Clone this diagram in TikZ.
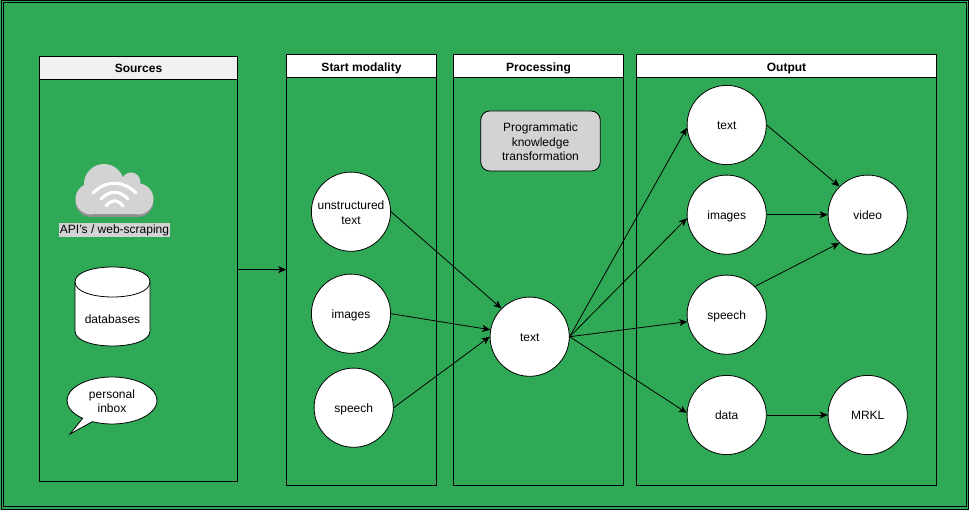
\documentclass[tikz,border=0pt]{standalone}
\usepackage{fontspec}
\setmainfont{Liberation Sans}
\usetikzlibrary{arrows.meta, positioning, shapes.geometric, shapes.callouts}
\definecolor{bggreen}{HTML}{2FA956}
\definecolor{cloudgray}{HTML}{D3D3D3}
\definecolor{cloudshade}{HTML}{909090}
\newcommand{\lineup}{\rule{0pt}{10.2pt}}

\begin{document}
\begin{tikzpicture}[
    x=1pt, y=-1pt,
    font=\fontsize{12}{14.7}\selectfont,
    panel/.style={rectangle, draw, line width=1pt, minimum height=430pt},
    head/.style={rectangle, draw, line width=1pt, fill=white, minimum height=23pt, inner sep=0pt, text height=11.5pt, text depth=1.5pt, font=\fontsize{12}{14.7}\selectfont\bfseries},
    word/.style={text height=11pt, text depth=1.6pt},
    circ/.style={circle, draw, line width=0.8pt, fill=white, minimum size=79.2pt, inner sep=0pt, align=center},
    wifi/.style={white, line width=3pt, line cap=round},
    line/.style={draw, line width=0.8pt, -{Stealth[length=8pt,width=7pt,inset=2pt]}}
]
    % Background
    \useasboundingbox (0,0) rectangle (969,510);
    \fill[bggreen] (0,0) rectangle (969,510);
    \draw[line width=1pt] (1,1) rectangle (968,509);
    \draw[line width=1pt] (3,3) rectangle (966,506.5);

    % Place panels
    \node [panel, minimum width=198pt, minimum height=425pt] (P_sources) at (138.5,269) {};
    \node [panel, minimum width=149.5pt] (P_start) at (361.5,270) {};
    \node [panel, minimum width=170pt] (P_proc) at (538.5,270) {};
    \node [panel, minimum width=300pt] (P_output) at (786.5,270) {};
    \node [head, fill=black!6, minimum width=198pt, below=0pt of P_sources.north] (H_sources) {Sources};
    \node [head, minimum width=149.5pt, below=0pt of P_start.north] (H_start) {Start modality};
    \node [head, minimum width=170pt, below=0pt of P_proc.north] (H_proc) {Processing};
    \node [head, minimum width=300pt, below=0pt of P_output.north] (H_output) {Output};

    % Cloud
    \foreach \dy/\col in {2.5/cloudshade, 0/cloudgray} {
        \fill[\col, yshift=-\dy pt] (104,184) circle (20);
        \fill[\col, yshift=-\dy pt] (131,182) circle (9.5);
        \fill[\col, yshift=-\dy pt] (91,199) circle (15.5);
        \fill[\col, yshift=-\dy pt] (138,199) circle (15.5);
        \fill[\col, yshift=-\dy pt] (91,185) rectangle (138,214.5);
    }
    \draw[wifi] (93,193) .. controls (106,180) and (123,180) .. (136,193);
    \draw[wifi] (101,199) .. controls (110,190) and (119,190) .. (128,199);
    \draw[wifi] (106,206) .. controls (112,199) and (117,199) .. (123,206);
    \node [fill=cloudgray, inner ysep=0pt, inner xsep=1pt, text height=10pt, text depth=2pt, minimum height=14pt] (P_api) at (114.5,230) {API's / web-scraping};

    % Other sources
    \draw [line width=0.8pt, fill=white] (75,282) .. controls (75,262) and (150,262) .. (150,282) -- (150,331) .. controls (150,351) and (75,351) .. (75,331) -- cycle;
    \draw [line width=0.8pt] (75,282) .. controls (75,302) and (150,302) .. (150,282);
    \node [word] (P_db) at (112.5,319) {databases};
    \node [ellipse callout, draw, line width=0.8pt, fill=white, minimum width=90pt, minimum height=47pt, inner sep=0pt, align=center, callout absolute pointer={(70,434)}] (P_inbox) at (112,400.5) {\lineup personal\\inbox};

    % Place nodes
    \node [circ] (P_unstructured) at (351,211.7) {\lineup unstructured\\text};
    \node [circ, word, below=22pt of P_unstructured] (P_images) {images};
    \node [circ, word, below=14pt of P_images, xshift=2.7pt] (P_speech) {speech};
    \node [circ, word] (P_text) at (529.7,336.7) {text};
    \node [draw, line width=0.8pt, fill=cloudgray, rounded corners=9pt, minimum width=119.5pt, minimum height=60pt, inner sep=0pt, align=center] (P_prog) at (540.5,141) {\lineup Programmatic\\knowledge\\transformation};
    \node [circ, word] (O_text) at (726.7,125) {text};
    \node [circ, word, below=9.7pt of O_text] (O_images) {images};
    \node [circ, word, below=20pt of O_images] (O_speech) {speech};
    \node [circ, word, below=20.3pt of O_speech] (O_data) {data};
    \node [circ, word, right=61pt of O_images] (O_video) {video};
    \node [circ, word, right=61pt of O_data] (O_mrkl) {MRKL};

    % Draw edges
    \path [line] (P_sources) -- (P_start);
    \path [line] (P_unstructured.east) -- (P_text.north west);
    \path [line] (P_images.east) -- (P_text.170);
    \path [line] (P_speech.east) -- (P_text.west);
    \path [line] (P_text.east) -- (O_text.184);
    \path [line] (P_text.east) -- (O_images.185);
    \path [line] (P_text.east) -- (O_speech.190);
    \path [line] (P_text.east) -- (O_data.177);
    \path [line] (O_text.east) -- (O_video.north west);
    \path [line] (O_images) -- (O_video);
    \path [line] (O_speech.north east) -- (O_video.south west);
    \path [line] (O_data) -- (O_mrkl);
\end{tikzpicture}
\end{document}
